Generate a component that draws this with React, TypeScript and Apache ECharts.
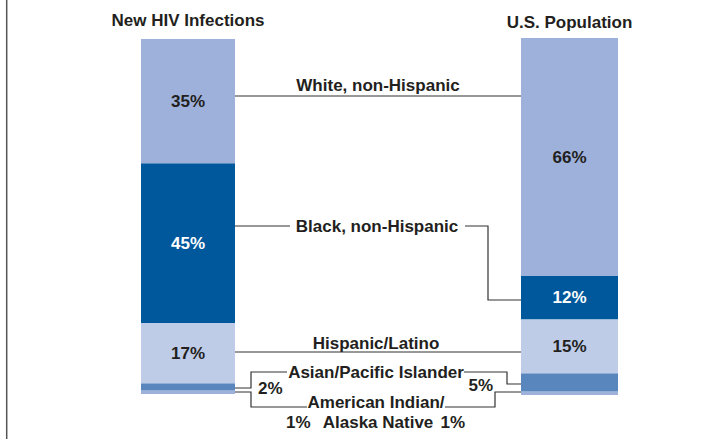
import React, { useEffect, useRef } from "react";
import * as echarts from "echarts";

const groups = ["New HIV Infections", "U.S. Population"];
const ethnicities = [
  "White, non-Hispanic",
  "Black, non-Hispanic",
  "Hispanic/Latino",
  "Asian/Pacific Islander",
  "American Indian/Alaska Native",
];
const hivValues = [35, 45, 17, 2, 1];
const popValues = [66, 12, 15, 5, 1];
const segmentColors = ["#9DB1DB", "#00589C", "#BECCE8", "#5A86BE", "#9DB1DB"];

const FONT = "'Liberation Sans', Arial, Helvetica, sans-serif";
const TXT = "#231F20";
const LINE = "#333333";

export default function App() {
  const ref = useRef<HTMLDivElement>(null);
  useEffect(() => {
    if (!ref.current) return;
    const chart = echarts.init(ref.current, undefined, { renderer: "svg" });

    const gridDefs = [
      { left: 141, top: 39, width: 94, height: 355 },
      { left: 521, top: 38, width: 97, height: 357 },
    ];
    const valueSets = [hivValues, popValues];
    const titleMargins = [10, 7];
    // outside label placement for the small segments [grid][ethnicity]
    const smallLabel: Record<string, any> = {
      "0-3": { position: "right", offset: [18, 2] },
      "0-4": { position: "right", offset: [46, 30] },
      "1-3": { position: "left", offset: [-23, 3] },
      "1-4": { position: "left", offset: [-51, 29] },
    };

    const series: any[] = [];
    for (let g = 0; g < 2; g++) {
      const vals = valueSets[g];
      for (let i = vals.length - 1; i >= 0; i--) {
        const key = `${g}-${i}`;
        const small = smallLabel[key];
        series.push({
          type: "bar",
          name: ethnicities[i],
          xAxisIndex: g,
          yAxisIndex: g,
          stack: "s" + g,
          barWidth: "100%",
          itemStyle: { color: segmentColors[i] },
          label: {
            show: true,
            position: small ? small.position : "inside",
            offset: small ? small.offset : [0, 0],
            distance: 5,
            formatter: "{c}%",
            fontFamily: FONT,
            fontWeight: "bold",
            fontSize: 17,
            color: i === 1 ? "#FFFFFF" : TXT,
          },
          data: [vals[i]],
        });
      }
    }

    const txt = (x: number, y: number, text: string) => ({
      type: "text",
      x,
      y,
      style: {
        text,
        fill: TXT,
        font: `bold 17px ${FONT}`,
        textAlign: "center",
        textVerticalAlign: "middle",
      },
    });
    const pl = (points: number[][]) => ({
      type: "polyline",
      shape: { points },
      style: { stroke: LINE, lineWidth: 1.2, fill: "none" },
    });

    chart.setOption({
      animation: false,
      grid: gridDefs.map((d) => ({ ...d, containLabel: false })),
      xAxis: [0, 1].map((g) => ({
        type: "category",
        gridIndex: g,
        position: "top",
        data: [groups[g]],
        axisLine: { show: false },
        axisTick: { show: false },
        axisLabel: {
          margin: titleMargins[g],
          fontFamily: FONT,
          fontWeight: "bold",
          fontSize: 17,
          color: TXT,
        },
      })),
      yAxis: [0, 1].map((g) => ({
        type: "value",
        gridIndex: g,
        min: 0,
        max: valueSets[g].reduce((a, b) => a + b, 0),
        show: false,
      })),
      series,
      graphic: [
        {
          type: "line",
          shape: { x1: 6.7, y1: 0, x2: 6.7, y2: 439 },
          style: { stroke: "#555555", lineWidth: 1.5 },
        },
        // White
        txt(378, 85, "White, non-Hispanic"),
        pl([[235, 96], [521, 96]]),
        // Black
        txt(377, 226, "Black, non-Hispanic"),
        pl([[235, 226], [290, 226]]),
        pl([[465, 226], [488, 226], [488, 300], [521, 300]]),
        // Hispanic
        txt(376, 343, "Hispanic/Latino"),
        pl([[235, 352], [521, 352]]),
        // Asian
        txt(376, 372, "Asian/Pacific Islander"),
        pl([[235, 388], [251, 388], [251, 372], [287, 372]]),
        pl([[464, 372], [507, 372], [507, 384], [521, 384]]),
        // American Indian / Alaska Native
        txt(376, 402, "American Indian/"),
        txt(378, 422, "Alaska Native"),
        pl([[235, 392], [251, 392], [251, 407], [307, 407]]),
        pl([[445, 407], [495, 407], [495, 392], [521, 392]]),
      ],
    });
    return () => chart.dispose();
  }, []);
  return (
    <div
      ref={ref}
      style={{ position: "fixed", left: 0, top: 0, width: 727, height: 439, background: "#fff" }}
    />
  );
}
